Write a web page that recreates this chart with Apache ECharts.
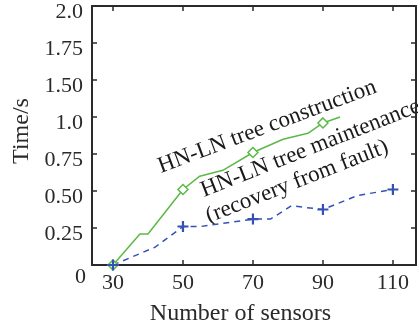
<!DOCTYPE html>
<html>
<head>
<meta charset="utf-8">
<script src="https://cdn.jsdelivr.net/npm/echarts@6/dist/echarts.min.js"></script>
<style>html,body{margin:0;padding:0;background:#fff;}#c{width:418px;height:327px;}</style>
</head>
<body>
<div id="c"></div>
<script>
// ---- data ----
const xTicks = [30, 50, 70, 90, 110];
const yTickValues = [0, 0.25, 0.5, 0.75, 1.0, 1.25, 1.5, 1.75];
const yTickLabels = ['0', '0.25', '0.50', '0.75', '1.0', '1.50', '1.75', '2.0'];

const constructionX = [30, 37.7, 40, 50, 54.8, 61.4, 70, 78.6, 85.7, 90, 94.9];
const constructionY = [0.0, 0.21, 0.21, 0.51, 0.60, 0.64, 0.76, 0.85, 0.89, 0.96, 1.0];
const constructionMarkers = [30, 50, 70, 90];

const maintenanceX = [30, 42, 50, 55, 70, 75, 81, 90, 100, 110];
const maintenanceY = [0.0, 0.12, 0.26, 0.26, 0.31, 0.31, 0.40, 0.375, 0.47, 0.51];
const maintenanceMarkers = [30, 50, 70, 90, 110];

const annotations = [
  'HN-LN tree construction',
  'HN-LN tree maintenance',
  '(recovery from fault)'
];

// ---- chart ----
const FONT = 'Liberation Serif';
const GREEN = '#5cb947';
const BLUE = '#3352b3';
const AXIS = '#2a2a2a';
const PLUS = 'path://M4,0h2v4h4v2h-4v4h-2v-4h-4v-2h4z';

function build(xs, ys, marks, sym) {
  return xs.map((x, i) => ({
    value: [x, ys[i]],
    symbol: marks.indexOf(x) >= 0 ? sym : 'none'
  }));
}

const chart = echarts.init(document.getElementById('c'), null, {renderer: 'canvas'});

const baseX = {
  type: 'value', min: 24, max: 116.6,
  axisLine: {show: true, onZero: false, lineStyle: {color: AXIS, width: 2}},
  axisTick: {show: true, inside: true, length: 5, customValues: xTicks, lineStyle: {color: AXIS, width: 1.5}},
  splitLine: {show: false}
};
const baseY = {
  type: 'value', min: 0, max: 1.75,
  axisLine: {show: true, onZero: false, lineStyle: {color: AXIS, width: 2}},
  axisTick: {show: true, inside: true, length: 5, customValues: yTickValues, lineStyle: {color: AXIS, width: 1.5}},
  splitLine: {show: false}
};

const option = {
  backgroundColor: '#fff',
  animation: false,
  grid: {left: 92, right: 2, top: 6, bottom: 62, containLabel: false, outerBoundsMode: 'none'},
  xAxis: [
    Object.assign({}, baseX, {
      position: 'bottom',
      name: 'Number of sensors', nameLocation: 'middle', nameGap: 37,
      nameTextStyle: {fontFamily: FONT, fontSize: 24, color: AXIS, padding: [0, 27, 0, 0]},
      axisLabel: {show: true, customValues: xTicks, margin: 7, fontFamily: FONT, fontSize: 22, color: AXIS}
    }),
    Object.assign({}, baseX, {position: 'top', axisLabel: {show: false}})
  ],
  yAxis: [
    Object.assign({}, baseY, {
      position: 'left',
      name: 'Time/s', nameLocation: 'middle', nameGap: 53, nameRotate: 90,
      nameTextStyle: {fontFamily: FONT, fontSize: 24, color: AXIS, padding: [0, 0, 0, 9]},
      axisLabel: {
        show: true, customValues: yTickValues, margin: 6, fontFamily: FONT, fontSize: 22, color: AXIS,
        formatter: function (v) {
          const i = yTickValues.findIndex(t => Math.abs(t - v) < 1e-6);
          const s = i >= 0 ? yTickLabels[i] : '';
          return v === 0 ? '{z|' + s + '}' : '{n|' + s + '}';
        },
        rich: {
          z: {fontFamily: FONT, fontSize: 22, color: AXIS, padding: [25, 0, 0, 0]},
          n: {fontFamily: FONT, fontSize: 22, color: AXIS, padding: [12, 3, 0, 0]}
        }
      }
    }),
    Object.assign({}, baseY, {position: 'right', axisLabel: {show: false}})
  ],
  series: [
    {
      type: 'line', name: annotations[0], xAxisIndex: 0, yAxisIndex: 0,
      data: build(constructionX, constructionY, constructionMarkers, 'diamond'),
      symbolSize: 10, showAllSymbol: true,
      lineStyle: {color: GREEN, width: 1.5},
      itemStyle: {color: '#fff', borderColor: GREEN, borderWidth: 1.5},
      z: 3
    },
    {
      type: 'line', name: annotations[1], xAxisIndex: 0, yAxisIndex: 0,
      data: build(maintenanceX, maintenanceY, maintenanceMarkers, PLUS),
      symbolSize: 11, showAllSymbol: true,
      lineStyle: {color: BLUE, width: 1.5, type: [6, 5]},
      itemStyle: {color: BLUE, borderWidth: 0},
      z: 3
    }
  ],
  graphic: [
    {type: 'text', x: 163, y: 178, rotation: 20.5 * Math.PI / 180,
     style: {text: annotations[0], font: '23px "Liberation Serif"', fill: '#1a1a1a', textAlign: 'left', textVerticalAlign: 'bottom'}},
    {type: 'text', x: 206, y: 202, rotation: 21.5 * Math.PI / 180,
     style: {text: annotations[1], font: '23px "Liberation Serif"', fill: '#1a1a1a', textAlign: 'left', textVerticalAlign: 'bottom'}},
    {type: 'text', x: 211, y: 228, rotation: 21.5 * Math.PI / 180,
     style: {text: annotations[2], font: '23px "Liberation Serif"', fill: '#1a1a1a', textAlign: 'left', textVerticalAlign: 'bottom'}}
  ]
};
chart.setOption(option);
</script>
</body>
</html>
